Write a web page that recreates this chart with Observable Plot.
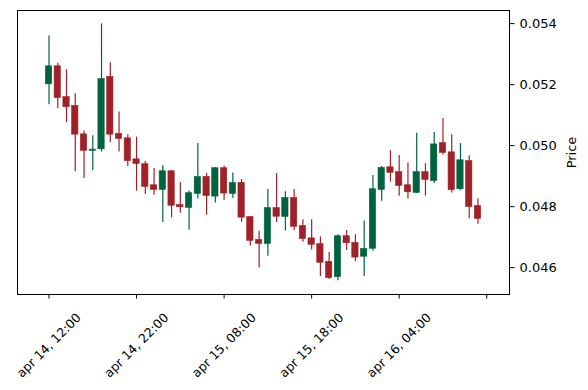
<!DOCTYPE html>
<html>
<head>
<meta charset="utf-8">
<script src="https://cdn.jsdelivr.net/npm/d3@7"></script>
<script src="https://cdn.jsdelivr.net/npm/@observablehq/plot@0.6"></script>
<style>
  html, body { margin: 0; padding: 0; background: #fff; }
  svg { font-family: "DejaVu Sans", sans-serif; }
</style>
</head>
<body>
<div id="chart"></div>
<script>
const opens  = [0.05201,0.05260,0.05159,0.05130,0.05037,0.04983,0.04988,0.05225,0.05038,0.05024,
                0.04955,0.04939,0.04870,0.04855,0.04916,0.04805,0.04796,0.04842,0.04897,0.04833,
                0.04926,0.04842,0.04878,0.04766,0.04691,0.04678,0.04795,0.04766,0.04828,0.04736,
                0.04696,0.04677,0.04619,0.04569,0.04703,0.04681,0.04636,0.04662,0.04855,0.04929,
                0.04913,0.04870,0.04845,0.04913,0.04884,0.05008,0.04978,0.04857,0.04949,0.04802];
const highs  = [0.05359,0.05270,0.05249,0.05170,0.05048,0.05032,0.05399,0.05272,0.05110,0.05036,
                0.05028,0.04948,0.04925,0.04934,0.04916,0.04879,0.04851,0.05007,0.04909,0.04928,
                0.04933,0.04910,0.04889,0.04766,0.04719,0.04856,0.04909,0.04849,0.04856,0.04757,
                0.04757,0.04701,0.04650,0.04708,0.04722,0.04708,0.04753,0.04902,0.04932,0.04983,
                0.04968,0.04943,0.05041,0.04941,0.05043,0.05089,0.05036,0.05007,0.04966,0.04826];
const lows   = [0.05134,0.05121,0.05075,0.04914,0.04892,0.04918,0.04979,0.05010,0.04979,0.04932,
                0.04851,0.04840,0.04837,0.04748,0.04763,0.04778,0.04723,0.04825,0.04772,0.04812,
                0.04820,0.04827,0.04749,0.04671,0.04599,0.04637,0.04748,0.04720,0.04721,0.04683,
                0.04658,0.04571,0.04561,0.04557,0.04656,0.04620,0.04571,0.04654,0.04818,0.04880,
                0.04834,0.04825,0.04843,0.04834,0.04876,0.04969,0.04845,0.04852,0.04760,0.04742];
const closes = [0.05260,0.05156,0.05126,0.05036,0.04983,0.04987,0.05218,0.05036,0.05022,0.04949,
                0.04940,0.04865,0.04855,0.04916,0.04803,0.04798,0.04844,0.04897,0.04835,0.04926,
                0.04843,0.04877,0.04764,0.04688,0.04678,0.04795,0.04767,0.04828,0.04734,0.04694,
                0.04675,0.04616,0.04566,0.04703,0.04680,0.04633,0.04661,0.04857,0.04927,0.04911,
                0.04868,0.04847,0.04913,0.04888,0.05004,0.04976,0.04854,0.04952,0.04799,0.04760];

const xTickIdx    = [0, 10, 20, 30, 40, 50];
const xTickLabels = ["apr 14, 12:00", "apr 14, 22:00", "apr 15, 08:00", "apr 15, 18:00", "apr 16, 04:00", ""];
const yTicks      = [0.046, 0.048, 0.050, 0.052, 0.054];

const UP = "#006340", DOWN = "#A02128";
const data = opens.map((o, i) => ({i, open: o, high: highs[i], low: lows[i], close: closes[i]}));
const col = d => d.close >= d.open ? UP : DOWN;

const chart = Plot.plot({
  width: 588,
  height: 390,
  marginLeft: 17,
  marginRight: 79,
  marginTop: 10,
  marginBottom: 96,
  style: {fontSize: "13px", fontFamily: "DejaVu Sans, sans-serif", background: "#fff", color: "#000", overflow: "visible"},
  x: {type: "linear", domain: [-3.6, 52.6]},
  y: {domain: [0.04512, 0.05443]},
  marks: [
    Plot.ruleX(data, {x: "i", y1: "low", y2: "high", stroke: col, strokeWidth: 1.2}),
    Plot.rect(data, {x1: d => d.i - 0.36, x2: d => d.i + 0.36, y1: "open", y2: "close", fill: col, stroke: col, strokeWidth: 0.6}),
    Plot.frame({stroke: "#000", strokeWidth: 1}),
    Plot.axisY({anchor: "right", ticks: yTicks, tickFormat: d3.format(".3f"), tickSize: 4.5, tickPadding: 5.5, label: null, fontSize: 13}),
    Plot.axisX({ticks: xTickIdx, tickSize: 4.5, tickFormat: () => "", label: null}),
    Plot.text(xTickIdx, {x: d => d, text: (d, k) => xTickLabels[k], frameAnchor: "bottom", dy: 51, rotate: -45, textAnchor: "middle", lineAnchor: "middle", fontSize: 12.5, fill: "#000"}),
    Plot.text(["Price"], {text: d => d, frameAnchor: "right", dx: 62, rotate: -90, textAnchor: "middle", lineAnchor: "middle", fontSize: 13, fill: "#000"})
  ]
});
document.getElementById("chart").appendChild(chart);
</script>
</body>
</html>
